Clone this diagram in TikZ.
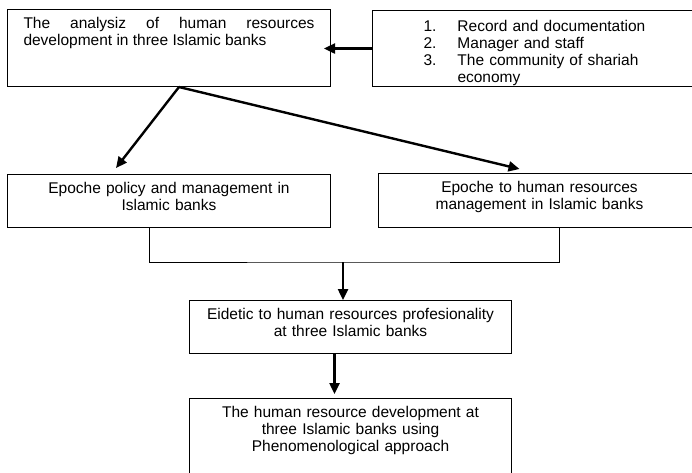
\documentclass[tikz,border=0pt]{standalone}
\usepackage{fontspec}
\setmainfont{Liberation Sans}
\usetikzlibrary{arrows.meta}

\begin{document}
\begin{tikzpicture}[
    x=1pt, y=-1pt,
    box/.style={
        draw, rectangle, anchor=north west, line width=1pt, fill=white,
        inner xsep=16pt, inner ysep=8pt, text height=11pt,
        font=\fontsize{15.5}{17}\selectfont
    },
    flow/.style={-{Triangle[length=11pt, width=10pt]}, line width=2.4pt},
    link/.style={line width=1pt}
]
\useasboundingbox (0,0) rectangle (692,472);

% -------------------------
% Boxes
% -------------------------

% 1. Analysis (Top Left)
\node[box, text width=291pt, align=justify, text depth=50pt] (analysis) at (7,9) {The analysiz of human resources\linebreak development in three Islamic banks};

% 2. Sources (Top Right)
\node[box, text width=296pt, align=left, text height=13pt, text depth=47pt] (sources) at (372,10) {
    \begin{tabular}[t]{@{\hspace{35pt}}p{34pt}@{}l@{}}
    1. & Record and documentation \\
    2. & Manager and staff \\
    3. & The community of shariah \\
       & economy
    \end{tabular}
};

% 3. Epoche policy (Middle Left)
\node[box, text width=291pt, align=center, text depth=26pt] (policy) at (7,174) {Epoche policy and management in\\ Islamic banks};

% 4. Epoche HRM (Middle Right)
\node[box, text width=290pt, align=center, text depth=27pt] (hrm) at (378,173) {Epoche to human resources\\ management in Islamic banks};

% 5. Eidetic (Center)
\node[box, text width=290pt, align=center, text depth=26pt] (eidetic) at (189,300) {Eidetic to human resources profesionality\\ at three Islamic banks};

% 6. Result (Bottom)
\node[box, text width=290pt, align=center, text depth=60pt] (result) at (189,398) {The human resource development at\\ three Islamic banks using\\ Phenomenological approach};

% -------------------------
% Connections
% -------------------------
\coordinate (split) at ([xshift=10pt]analysis.south);
\coordinate (join) at (343,262);

% sources -> analysis
\draw[flow] (sources.west) -- ([xshift=-7pt]sources.west -| analysis.east);

% analysis -> both epoche boxes
\draw[flow] (split) -- ([xshift=-53pt, yshift=6pt]policy.north);
\draw[flow] (split) -- ([xshift=-20pt, yshift=4pt]hrm.north);

% epoche boxes -> eidetic
\draw[link] ([xshift=-20pt]policy.south) |- (join) -| ([xshift=20pt]hrm.south);
\draw[flow] (join) -- (join |- eidetic.north);

% eidetic -> result
\draw[flow] ([xshift=-16pt]eidetic.south) -- ([xshift=-16pt, yshift=4pt]result.north);

\end{tikzpicture}
\end{document}
